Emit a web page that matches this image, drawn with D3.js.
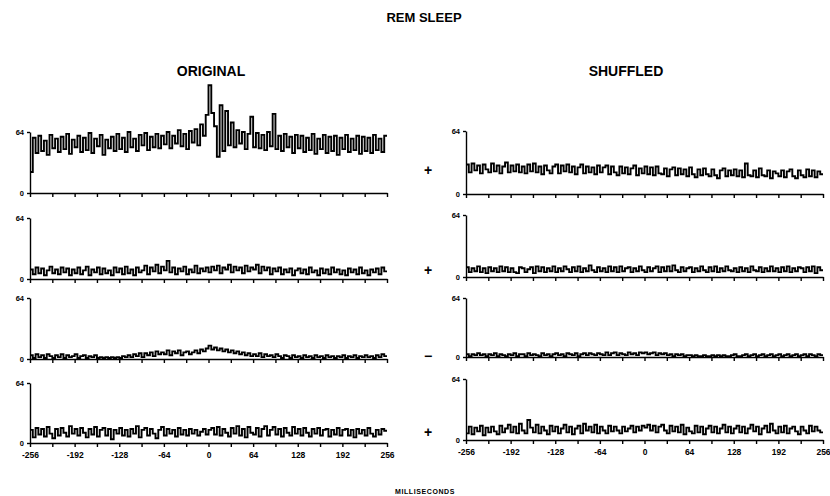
<!DOCTYPE html>
<html>
<head>
<meta charset="utf-8">
<script src="https://cdn.jsdelivr.net/npm/d3@7"></script>
<style>
  body { margin: 0; background: #fff; }
  svg { display: block; }
  text { font-family: "Liberation Sans", "DejaVu Sans", sans-serif; font-weight: bold; fill: #000; }
  .axis path, .axis line { stroke: #000; stroke-width: 1.4; }
  .axis text { fill: #000; }
</style>
</head>
<body>
<svg id="chart" width="830" height="496"></svg>
<script>
// 4 ms bins from -256 to +256 ms (128 bins), counts
const binStarts = d3.range(-256, 256, 4);
const xTicks = d3.range(-256, 257, 32);
const xTickLabels = [-256, -192, -128, -64, 0, 64, 128, 192, 256];
const yTicks = [0, 64];
const shuffledSigns = ["+", "+", "\u2212", "+"];

const original1 = [
  22, 58, 42, 60, 44, 55, 40, 61, 47, 57, 43, 59, 46, 62, 41, 56,
  48, 60, 43, 58, 45, 63, 42, 57, 49, 61, 40, 56, 47, 59, 44, 62,
  46, 58, 43, 64, 48, 57, 44, 61, 50, 63, 45, 59, 48, 62, 47, 60,
  51, 64, 47, 60, 52, 66, 49, 62, 46, 65, 53, 67, 50, 72, 60, 82,
  113, 84, 70, 38, 92, 44, 86, 50, 74, 48, 66, 52, 64, 46, 62, 80,
  48, 63, 47, 61, 45, 64, 49, 83, 46, 60, 44, 62, 48, 59, 42, 61,
  47, 60, 43, 58, 45, 62, 41, 57, 46, 61, 42, 59, 44, 60, 40, 58,
  46, 61, 43, 57, 45, 60, 41, 59, 44, 58, 42, 61, 45, 57, 43, 60
];
const original2 = [
  10, 5, 12, 6, 11, 4, 9, 13, 6, 10, 5, 12, 7, 11, 4, 10,
  6, 12, 5, 9, 13, 4, 10, 7, 12, 5, 11, 6, 9, 4, 12, 7,
  11, 5, 13, 6, 10, 4, 12, 7, 9, 14, 5, 12, 8, 15, 6, 13,
  9, 19, 7, 12, 5, 11, 8, 13, 5, 10, 7, 14, 6, 11, 8, 12,
  7, 13, 9, 14, 6, 12, 10, 15, 7, 13, 9, 12, 6, 14, 8, 12,
  10, 15, 6, 13, 9, 12, 5, 11, 8, 12, 5, 10, 7, 11, 4, 9,
  11, 6, 10, 5, 12, 7, 9, 4, 11, 6, 10, 5, 12, 7, 10, 5,
  9, 4, 11, 7, 10, 5, 12, 6, 9, 4, 10, 7, 11, 5, 12, 8
];
const original3 = [
  4, 1, 5, 2, 4, 1, 5, 3, 1, 4, 2, 5, 1, 4, 2, 3,
  5, 1, 3, 4, 1, 3, 2, 4, 1, 2, 1, 2, 1, 2, 1, 2,
  1, 3, 2, 4, 2, 5, 3, 6, 2, 6, 4, 7, 3, 8, 5, 7,
  5, 9, 4, 8, 6, 9, 4, 7, 8, 5, 7, 9, 6, 10, 8, 11,
  14, 10, 12, 9, 11, 8, 10, 7, 9, 6, 8, 5, 7, 4, 6, 3,
  5, 3, 6, 2, 5, 3, 4, 2, 5, 3, 1, 4, 3, 1, 4, 2,
  3, 1, 4, 2, 3, 1, 4, 2, 3, 1, 4, 2, 3, 1, 3, 2,
  4, 1, 3, 2, 4, 1, 3, 2, 4, 2, 3, 1, 4, 2, 5, 3
];
const original4 = [
  14, 6, 16, 9, 15, 7, 17, 10, 5, 15, 8, 16, 11, 7, 18, 10,
  15, 8, 16, 11, 6, 15, 9, 17, 7, 14, 16, 8, 15, 4, 14, 10,
  16, 8, 14, 7, 15, 10, 18, 6, 14, 16, 8, 15, 10, 5, 14, 17,
  8, 15, 10, 14, 7, 16, 9, 14, 8, 15, 10, 14, 8, 12, 15, 9,
  14, 16, 9, 17, 8, 15, 11, 7, 16, 10, 18, 8, 15, 6, 17, 11,
  9, 16, 7, 15, 18, 8, 14, 17, 9, 15, 7, 16, 11, 8, 17, 10,
  15, 8, 16, 11, 7, 15, 10, 16, 8, 14, 15, 7, 14, 9, 16, 8,
  14, 15, 8, 14, 6, 15, 10, 14, 8, 16, 10, 7, 14, 9, 15, 13
];

const shuffled1 = [
  30, 22, 31, 24, 29, 21, 30, 25, 22, 31, 23, 29, 21, 28, 32, 22,
  29, 23, 30, 22, 28, 21, 30, 23, 31, 22, 28, 20, 29, 24, 21, 28,
  30, 21, 29, 23, 30, 22, 28, 20, 27, 30, 21, 28, 22, 27, 20, 29,
  22, 27, 29, 20, 28, 22, 19, 28, 21, 27, 20, 26, 29, 19, 26, 21,
  28, 20, 27, 19, 28, 21, 20, 26, 18, 25, 27, 19, 26, 20, 25, 18,
  27, 20, 17, 25, 19, 26, 20, 18, 25, 19, 16, 24, 26, 18, 24, 19,
  25, 18, 24, 17, 31, 19, 18, 24, 17, 26, 19, 18, 24, 16, 23, 21,
  18, 24, 17, 23, 25, 18, 16, 24, 19, 17, 25, 18, 24, 17, 23, 20
];
const shuffled2 = [
  10, 5, 9, 6, 11, 5, 9, 4, 10, 6, 9, 5, 11, 6, 10, 5,
  9, 5, 4, 10, 9, 5, 8, 10, 4, 11, 6, 10, 5, 9, 6, 11,
  5, 9, 6, 11, 8, 5, 10, 6, 11, 5, 9, 6, 12, 7, 5, 10,
  6, 9, 5, 11, 6, 10, 5, 11, 6, 9, 10, 5, 9, 6, 11, 7,
  5, 10, 6, 9, 11, 5, 10, 6, 11, 6, 12, 7, 5, 10, 6, 9,
  10, 5, 9, 6, 11, 7, 5, 10, 6, 11, 5, 9, 6, 11, 7, 6,
  9, 5, 10, 6, 9, 5, 11, 7, 6, 10, 5, 9, 6, 11, 6, 9,
  5, 10, 6, 11, 5, 9, 6, 10, 9, 5, 10, 6, 11, 4, 10, 7
];
const shuffled3 = [
  3, 1, 3, 2, 4, 2, 3, 1, 3, 2, 4, 1, 3, 2, 1, 3,
  2, 4, 1, 3, 3, 1, 4, 2, 3, 2, 1, 4, 2, 3, 1, 3,
  4, 2, 3, 1, 4, 3, 2, 4, 1, 3, 4, 2, 4, 3, 2, 4,
  3, 2, 5, 2, 4, 5, 2, 4, 3, 2, 5, 3, 4, 2, 5, 4,
  5, 3, 4, 5, 2, 4, 3, 4, 2, 3, 1, 3, 2, 3, 1, 2,
  2, 1, 2, 1, 1, 2, 1, 1, 2, 1, 2, 1, 2, 1, 1, 2,
  3, 1, 1, 2, 3, 1, 2, 3, 1, 2, 3, 1, 2, 3, 1, 2,
  3, 1, 2, 3, 1, 2, 3, 1, 2, 3, 1, 3, 2, 1, 3, 2
];
const shuffled4 = [
  7, 14, 6, 13, 9, 15, 5, 13, 8, 14, 9, 6, 15, 8, 12, 16,
  8, 14, 7, 17, 10, 7, 21, 13, 8, 16, 7, 14, 10, 6, 15, 9,
  14, 7, 12, 16, 8, 14, 6, 12, 15, 7, 17, 10, 14, 8, 16, 7,
  14, 10, 7, 15, 9, 14, 10, 7, 14, 9, 12, 15, 8, 14, 10, 15,
  13, 16, 10, 15, 8, 14, 16, 10, 7, 15, 9, 14, 8, 16, 6, 13,
  9, 7, 15, 8, 14, 6, 12, 15, 8, 14, 7, 12, 16, 8, 14, 7,
  12, 15, 8, 14, 7, 12, 16, 9, 14, 6, 12, 15, 8, 17, 10, 7,
  14, 8, 15, 7, 12, 14, 9, 6, 14, 10, 7, 15, 9, 14, 10, 8
];

const svg = d3.select("#chart");

// titles
svg.append("text").attr("x", 424).attr("y", 22).attr("text-anchor", "middle")
  .style("font-size", "13px").text("REM SLEEP");
svg.append("text").attr("x", 211).attr("y", 76).attr("text-anchor", "middle")
  .style("font-size", "14px").text("ORIGINAL");
svg.append("text").attr("x", 626).attr("y", 76).attr("text-anchor", "middle")
  .style("font-size", "14px").text("SHUFFLED");
svg.append("text").attr("x", 425).attr("y", 494).attr("text-anchor", "middle")
  .style("font-size", "7px").style("letter-spacing", "0.6px").text("MILLISECONDS");

// panel frames: [y of 0, y of 64] per row, plus y of the sign on the right
const columns = [
  {x0: 30, x1: 387, series: [original1, original2, original3, original4],
   rows: [[193, 132], [279, 218], [359, 298], [443, 383]]},
  {x0: 466, x1: 823, series: [shuffled1, shuffled2, shuffled3, shuffled4],
   rows: [[194, 131], [277, 215], [357, 298], [440, 379]],
   signs: shuffledSigns, signY: [175, 275, 361, 437]}
];

columns.forEach(col => {
  const x = d3.scaleLinear().domain([-256, 256]).range([col.x0, col.x1]);

  col.series.forEach((values, i) => {
    const [yZero, yTop] = col.rows[i];
    const y = d3.scaleLinear().domain([0, 64]).range([yZero, yTop]);
    const last = i === col.series.length - 1;

    // x axis
    svg.append("g")
      .attr("class", "axis")
      .attr("transform", "translate(0," + yZero + ")")
      .call(d3.axisBottom(x)
        .tickValues(xTicks)
        .tickSize(4)
        .tickSizeOuter(0)
        .tickFormat(d => last && xTickLabels.includes(d) ? String(d) : ""))
      .call(g => g.selectAll("text").style("font-size", "8.5px").attr("dy", "0.9em"));

    // y axis
    svg.append("g")
      .attr("class", "axis")
      .attr("transform", "translate(" + col.x0 + ",0)")
      .call(d3.axisLeft(y).tickValues(yTicks).tickSize(3).tickSizeOuter(0))
      .call(g => g.selectAll("text").style("font-size", "7.5px"));

    // histogram trace
    const pts = binStarts.map((b, k) => [b, values[k]]);
    pts.push([256, values[values.length - 1]]);
    svg.append("path")
      .datum(pts)
      .attr("fill", "none")
      .attr("stroke", "#000")
      .attr("stroke-width", 1.9)
      .attr("d", d3.line().x(d => x(d[0])).y(d => y(d[1])).curve(d3.curveStepAfter));

    if (col.signs) {
      svg.append("text")
        .attr("x", 428).attr("y", col.signY[i])
        .attr("text-anchor", "middle")
        .style("font-size", "14px")
        .text(col.signs[i]);
    }
  });
});
</script>
</body>
</html>
